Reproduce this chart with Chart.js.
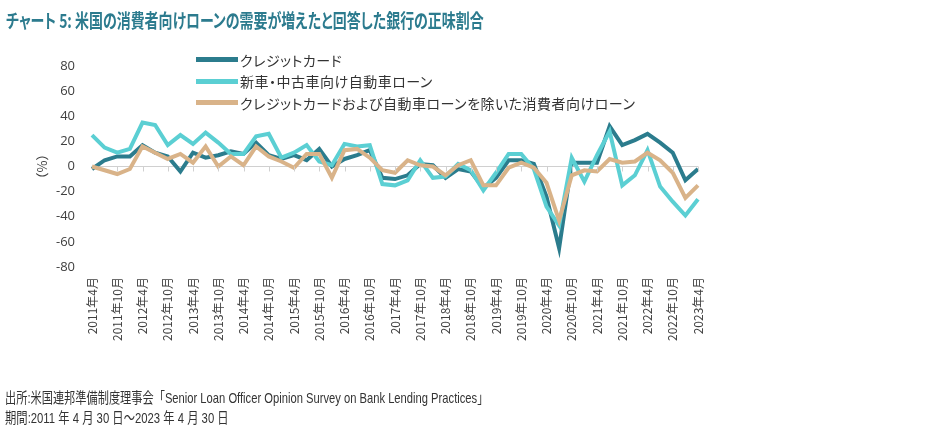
<!DOCTYPE html>
<html>
<head>
<meta charset="utf-8">
<script src="https://cdn.jsdelivr.net/npm/chart.js@4.4.1/dist/chart.umd.min.js"></script>
<style>
    body { margin: 0; background: #fff; font-family: "Noto Sans CJK JP", sans-serif; }
    #wrap { position: relative; width: 929px; height: 436px; overflow: hidden; }
    #chart { position: absolute; left: 0; top: 0; }
    .title { position: absolute; left: 6px; top: 10px; font-size: 19px; font-weight: bold; color: #2c7b8e;
             white-space: nowrap; line-height: 1; font-feature-settings: "palt"; transform-origin: 0 0; }
    .note { position: absolute; left: 5px; font-size: 15px; color: #333; white-space: nowrap; line-height: 1;
            font-family: "Liberation Sans", "Noto Sans CJK JP", sans-serif; transform-origin: 0 0; }
    #legend { position: absolute; left: 196px; top: 49px; font-size: 14px; color: #333;
              font-feature-settings: "palt"; letter-spacing: 0.5px; }
    #legend div { height: 21.5px; display: flex; align-items: center; white-space: nowrap; }
    #legend span.swatch { display: inline-block; width: 42px; height: 5px; margin-right: 2px; }
</style>
</head>
<body>
<div id="wrap">
    <canvas id="chart" width="929" height="436"></canvas>
    <div class="title" id="title">チャート 5: 米国の消費者向けローンの需要が増えたと回答した銀行の正味割合</div>
    <div id="legend"></div>
    <div class="note" id="note1" style="top:390px">出所:米国連邦準備制度理事会「Senior Loan Officer Opinion Survey on Bank Lending Practices」</div>
    <div class="note" id="note2" style="top:410px">期間:2011 年 4 月 30 日～2023 年 4 月 30 日</div>
</div>
<script>
// quarterly survey dates
const categories = [
    "2011年4月", "2011年7月", "2011年10月",
    "2012年1月", "2012年4月", "2012年7月", "2012年10月",
    "2013年1月", "2013年4月", "2013年7月", "2013年10月",
    "2014年1月", "2014年4月", "2014年7月", "2014年10月",
    "2015年1月", "2015年4月", "2015年7月", "2015年10月",
    "2016年1月", "2016年4月", "2016年7月", "2016年10月",
    "2017年1月", "2017年4月", "2017年7月", "2017年10月",
    "2018年1月", "2018年4月", "2018年7月", "2018年10月",
    "2019年1月", "2019年4月", "2019年7月", "2019年10月",
    "2020年1月", "2020年4月", "2020年7月", "2020年10月",
    "2021年1月", "2021年4月", "2021年7月", "2021年10月",
    "2022年1月", "2022年4月", "2022年7月", "2022年10月",
    "2023年1月", "2023年4月"
];

const seriesNames = [
    "クレジットカード",
    "新車・中古車向け自動車ローン",
    "クレジットカードおよび自動車ローンを除いた消費者向けローン"
];

const creditCard = [-2, 5, 8, 8, 17, 11, 8, -4, 11, 7, 9, 12, 10, 19, 9, 6, 9, 5, 14, 0,
    6, 9, 13, -9, -10, -7, 2, 1, -9, -2, -4, -17, -9, 5, 5, 2, -24, -65, 3, 3,
    3, 32, 17, 21, 26, 19, 11, -11, -2];

const autoLoan = [25, 15, 11, 14, 35, 33, 17, 25, 18, 27, 19, 10, 10, 24, 26, 7, 11, 17, 4, 1,
    18, 16, 17, -14, -15, -11, 5, -9, -8, 2, -3, -19, -5, 10, 10, -2, -32, -47, 7, -12,
    9, 28, -15, -7, 13, -16, -28, -39, -26];

const otherConsumer = [0, -3, -6, -2, 16, 11, 6, 10, 3, 16, 0, 8, 1, 16, 8, 4, -1, 10, 10, -9,
    13, 14, 7, -3, -5, 5, 1, 0, -7, 1, 5, -15, -15, -1, 3, -1, -13, -43, -7, -3,
    -4, 6, 3, 4, 11, 5, -5, -25, -15];

const yTicks = [-80, -60, -40, -20, 0, 20, 40, 60, 80];

const colors = ["#2b7c8d", "#5bcfd3", "#d9b389"];

// squeeze the condensed texts to the widths seen in the reference
function fitWidth(id, w) {
    const el = document.getElementById(id);
    el.style.transform = "scaleX(" + (w / el.scrollWidth) + ")";
}
fitWidth("title", 478);
fitWidth("note1", 483);
fitWidth("note2", 224);

// small tick marks hanging under the zero line
const zeroTicks = {
    id: "zeroTicks",
    afterDatasetsDraw(chart) {
        const x = chart.scales.x, y = chart.scales.y;
        const y0 = y.getPixelForValue(0);
        const ctx = chart.ctx;
        ctx.save();
        ctx.strokeStyle = "#d0d0d0";
        ctx.lineWidth = 1;
        ctx.beginPath();
        for (let i = 2; i < categories.length; i += 2) {
            const px = Math.round(x.getPixelForValue(i)) + 0.5;
            ctx.moveTo(px, y0);
            ctx.lineTo(px, y0 + 5);
        }
        ctx.stroke();
        ctx.restore();
    }
};

const chart = new Chart(document.getElementById("chart"), {
    type: "line",
    data: {
        labels: categories,
        datasets: [
            { label: seriesNames[0], data: creditCard, borderColor: colors[0], order: 3 },
            { label: seriesNames[1], data: autoLoan, borderColor: colors[1], order: 2 },
            { label: seriesNames[2], data: otherConsumer, borderColor: colors[2], order: 1 }
        ]
    },
    options: {
        responsive: false,
        animation: false,
        elements: {
            line: { borderWidth: 4, tension: 0, borderJoinStyle: "miter", fill: false },
            point: { radius: 0 }
        },
        layout: { padding: { left: 32, right: 231, top: 66, bottom: 0 } },
        plugins: {
            legend: { display: false },
            tooltip: { enabled: false }
        },
        scales: {
            x: {
                offset: false,
                grid: { display: false, drawTicks: false },
                border: { display: false },
                ticks: {
                    autoSkip: false,
                    minRotation: 90,
                    maxRotation: 90,
                    padding: 10,
                    color: "#404040",
                    font: { family: "Noto Sans CJK JP", size: 12 },
                    callback: function (val, i) { return i % 2 === 0 ? categories[i] : ""; }
                },
                afterFit: function (scale) { scale.height = 169; }
            },
            y: {
                min: -80,
                max: 80,
                afterBuildTicks: function (scale) { scale.ticks = yTicks.map(v => ({ value: v })); },
                grid: {
                    drawTicks: false,
                    color: ctx => ctx.tick && ctx.tick.value === 0 ? "#d0d0d0" : "rgba(0,0,0,0)"
                },
                border: { display: false },
                ticks: {
                    padding: 17,
                    color: "#404040",
                    font: { family: "Open Sans", size: 13 }
                },
                title: {
                    display: true,
                    text: "（%）",
                    color: "#404040",
                    padding: { top: 2, bottom: 0 },
                    font: { family: "Noto Sans CJK JP", size: 13 }
                },
                afterFit: function (scale) { scale.width = 60; }
            }
        }
    },
    plugins: [zeroTicks]
});

// legend rows built from the chart's datasets
const legendEl = document.getElementById("legend");
chart.data.datasets.forEach(ds => {
    const row = document.createElement("div");
    row.innerHTML = `<span class="swatch" style="background:${ds.borderColor}"></span><span>${ds.label}</span>`;
    legendEl.appendChild(row);
});
</script>
</body>
</html>
